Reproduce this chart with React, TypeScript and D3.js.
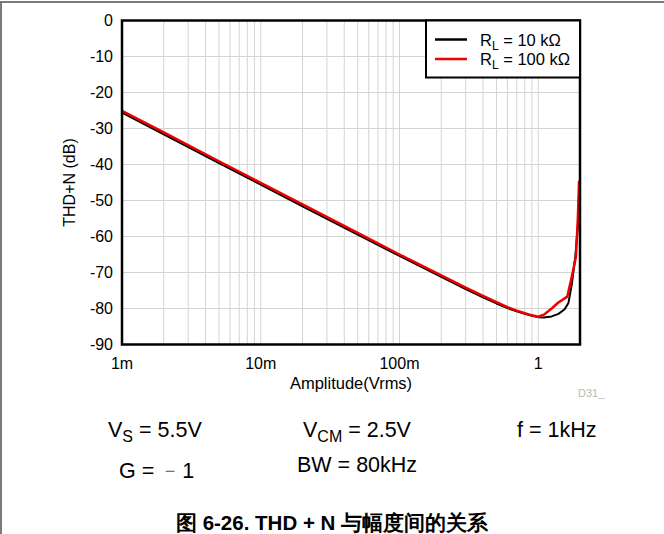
import React from "react";
import * as d3 from "d3";

const amplitudeBlack = [0.001, 0.002, 0.005, 0.01, 0.02, 0.05, 0.1, 0.2, 0.3, 0.4, 0.5, 0.6, 0.7, 0.8, 0.9, 1.0, 1.1, 1.25, 1.4, 1.55, 1.65, 1.75, 1.85, 1.93, 1.98];
const thdBlack = [-25.6, -31.6, -39.6, -45.6, -51.6, -59.5, -65.4, -71.2, -74.6, -76.9, -78.6, -79.9, -80.8, -81.5, -82.0, -82.4, -82.5, -82.2, -81.5, -80.2, -78.5, -73, -65.6, -57, -45];

const amplitudeRed = [0.001, 0.002, 0.005, 0.01, 0.02, 0.05, 0.1, 0.2, 0.3, 0.4, 0.5, 0.6, 0.7, 0.8, 0.9, 1.0, 1.1, 1.25, 1.39, 1.62, 1.75, 1.87, 1.93, 1.97];
const thdRed = [-25.1, -31.1, -39.1, -45.1, -51.1, -59.0, -65.0, -70.8, -74.2, -76.5, -78.2, -79.6, -80.6, -81.3, -81.9, -82.3, -81.7, -80.0, -78.4, -76.7, -71, -65.6, -55, -44.5];

const xTickValues = [0.001, 0.01, 0.1, 1];
const xTickLabels = ["1m", "10m", "100m", "1"];
const yTickValues = [0, -10, -20, -30, -40, -50, -60, -70, -80, -90];

const seriesNames = ["10 k\u03A9", "100 k\u03A9"];
const seriesColors = ["#000000", "#ee0000"];

const FONT = "'Liberation Sans', Arial, Helvetica, sans-serif";

export default function App() {
  const left = 122, right = 580, top = 20.5, bottom = 344.5;
  const x = d3.scaleLog().domain([0.001, 2]).range([left, right]);
  const y = d3.scaleLinear().domain([-90, 0]).range([bottom, top]);

  const minorTicks: number[] = [];
  for (let dec = 0.001; dec < 2; dec *= 10) {
    for (let k = 2; k <= 9; k++) {
      const v = dec * k;
      if (v <= 2.0001) minorTicks.push(v);
    }
  }

  const lineGen = d3
    .line<[number, number]>()
    .x((d) => x(d[0]))
    .y((d) => y(d[1]))
    .curve(d3.curveLinear);

  const blackPts = amplitudeBlack.map((a, i) => [a, thdBlack[i]] as [number, number]);
  const redPts = amplitudeRed.map((a, i) => [a, thdRed[i]] as [number, number]);

  const gridColor = "#d4d4d4";

  return (
    <svg
      width={664}
      height={534}
      style={{ position: "absolute", left: 0, top: 0, background: "#fff" }}
      fontFamily={FONT}
    >
      <rect x={0} y={0} width={664} height={534} fill="#fff" />
      {/* page frame */}
      <line x1={0} y1={2} x2={664} y2={2} stroke="#7a7a7a" strokeWidth={2} />
      <line x1={1} y1={2} x2={1} y2={534} stroke="#7a7a7a" strokeWidth={2} />

      {/* grid */}
      {minorTicks.map((v, i) => (
        <line key={"mx" + i} x1={x(v)} x2={x(v)} y1={top} y2={bottom} stroke={gridColor} strokeWidth={1} />
      ))}
      {xTickValues.map((v, i) => (
        <line key={"Mx" + i} x1={x(v)} x2={x(v)} y1={top} y2={bottom} stroke={gridColor} strokeWidth={1} />
      ))}
      {yTickValues.map((v, i) => (
        <line key={"gy" + i} x1={left} x2={right} y1={y(v)} y2={y(v)} stroke={gridColor} strokeWidth={1} />
      ))}

      {/* curves */}
      <path d={lineGen(blackPts) || ""} fill="none" stroke={seriesColors[0]} strokeWidth={2} strokeLinejoin="round" />
      <path d={lineGen(redPts) || ""} fill="none" stroke={seriesColors[1]} strokeWidth={2.5} strokeLinejoin="round" />

      {/* plot border */}
      <rect x={left} y={top} width={right - left} height={bottom - top} fill="none" stroke="#000" strokeWidth={2.5} />

      {/* y tick labels */}
      {yTickValues.map((v, i) => (
        <text key={"yt" + i} x={113} y={y(v) + 5.5} textAnchor="end" fontSize={16} fill="#000">
          {v}
        </text>
      ))}
      {/* x tick labels */}
      {xTickValues.map((v, i) => (
        <text key={"xt" + i} x={x(v)} y={369} textAnchor="middle" fontSize={16} fill="#000">
          {xTickLabels[i]}
        </text>
      ))}

      {/* axis titles */}
      <text x={351} y={388.5} textAnchor="middle" fontSize={16.5} fill="#000">
        Amplitude(Vrms)
      </text>
      <text
        transform={`translate(75, ${(top + bottom) / 2}) rotate(-90)`}
        textAnchor="middle"
        fontSize={16}
        fill="#000"
      >
        THD+N (dB)
      </text>

      {/* legend */}
      <rect x={426} y={20.5} width={154} height={57} fill="#fff" stroke="#000" strokeWidth={2} />
      {seriesNames.map((name, i) => (
        <g key={"lg" + i}>
          <line x1={435} x2={467} y1={39.5 + i * 19.5} y2={39.5 + i * 19.5} stroke={seriesColors[i]} strokeWidth={2.5} />
          <text x={480} y={45.5 + i * 19.5} fontSize={16.5} fill="#000">
            R
            <tspan fontSize={12} dy={4}>L</tspan>
            <tspan dy={-4}>{" = " + name}</tspan>
          </text>
        </g>
      ))}

      {/* D31_ */}
      <text x={578} y={397} fontSize={11} fill="#b8b8b8">D31_</text>

      {/* conditions */}
      <text x={108} y={437} fontSize={21.5} fill="#000">
        V<tspan fontSize={16} dy={5}>S</tspan>
        <tspan dy={-5}> = 5.5V</tspan>
      </text>
      <text x={303} y={437} fontSize={21.5} fill="#000">
        V<tspan fontSize={16} dy={5}>CM</tspan>
        <tspan dy={-5}> = 2.5V</tspan>
      </text>
      <text x={517} y={437} fontSize={21.5} fill="#000">
        f = 1kHz
      </text>
      <text x={119} y={478} fontSize={21.5} fill="#000">
        G = <tspan fill="#555">{"\uFE63"}</tspan>1
      </text>
      <text x={297} y={472} fontSize={21.5} fill="#000">
        BW = 80kHz
      </text>

      {/* caption */}
      <text x={332} y={530} textAnchor="middle" fontSize={20.5} fontWeight="bold" fill="#000">
        图 6-26. THD + N 与幅度间的关系
      </text>
    </svg>
  );
}
